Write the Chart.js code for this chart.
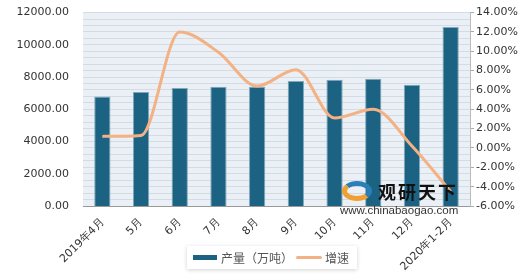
<!DOCTYPE html>
<html lang="zh">
<head>
  <meta charset="UTF-8" />
  <title>产量与增速</title>
  <script src="https://cdn.jsdelivr.net/npm/chart.js"></script>
  <style>
    * { margin: 0; padding: 0; box-sizing: border-box; }
    body { width: 520px; height: 276px; background: #fff; font-family: 'Noto Sans CJK SC', 'DejaVu Sans', sans-serif; overflow: hidden; }
    .wrap { position: relative; width: 520px; height: 276px; }
    .legend {
      position: absolute; left: 187px; top: 246px; width: 170px; height: 23px;
      background: #fff; box-shadow: 0 1px 4px rgba(0,0,0,0.18);
      display: flex; align-items: center; font-size: 12px; color: #555; padding-left: 6px;
    }
    .legend .sw-bar { width: 24px; height: 5px; background: #1c6282; margin-right: 4px; }
    .legend .sw-line { width: 26px; height: 3px; background: #f4b183; border-radius: 2px; margin: 0 3px 0 3px; }
    .mark { position: absolute; left: 340px; top: 178px; color: #222; }
    .mark .logo { position: absolute; left: 2px; top: 3px; width: 30px; height: 20px; border-radius: 50%;
      border: 5px solid #f0a030; border-right-color: #2a7fb8; border-top-color: #2a7fb8; }
    .mark .name { position: absolute; left: 38px; top: 0; font-size: 18px; font-weight: bold; letter-spacing: 2px; white-space: nowrap; color: #111; }
    .mark .url { position: absolute; left: 0; top: 26px; font-family: 'Liberation Sans', sans-serif; font-size: 11.5px; white-space: nowrap; color: #333; }
  </style>
</head>
<body>
  <div class="wrap">
    <canvas id="chart" width="520" height="276"></canvas>
    <div class="mark">
      <div class="logo"></div>
      <div class="name">观研天下</div>
      <div class="url">www.chinabaogao.com</div>
    </div>
    <div class="legend">
      <span class="sw-bar"></span><span>产量（万吨）</span>
      <span class="sw-line"></span><span>增速</span>
    </div>
  </div>

  <script>
    const months = ['2019年4月', '5月', '6月', '7月', '8月', '9月', '10月', '11月', '12月', '2020年1-2月'];
    const output = [6800, 7070, 7320, 7400, 7400, 7750, 7830, 7900, 7520, 11110];
    const growth = [1.2, 1.3, 12.0, 9.9, 6.4, 8.1, 3.1, 4.0, 0.2, -4.5];
    const leftTicks = [0, 2000, 4000, 6000, 8000, 10000, 12000];
    const rightTicks = [-6, -4, -2, 0, 2, 4, 6, 8, 10, 12, 14];

    // light striped plot background
    const plotBg = {
      id: 'plotBg',
      beforeDraw(chart) {
        const { ctx, chartArea: a } = chart;
        ctx.save();
        ctx.fillStyle = '#eaf0f5';
        ctx.fillRect(a.left, a.top, a.right - a.left, a.bottom - a.top);
        ctx.restore();
      }
    };

    const tickFont = { family: "'DejaVu Sans', sans-serif", size: 11 };

    new Chart(document.getElementById('chart'), {
      type: 'bar',
      data: {
        labels: months,
        datasets: [
          {
            label: '增速',
            type: 'line',
            data: growth,
            yAxisID: 'yRate',
            borderColor: '#f4b183',
            borderWidth: 3,
            pointRadius: 0,
            cubicInterpolationMode: 'monotone',
            order: 0
          },
          {
            label: '产量（万吨）',
            data: output,
            yAxisID: 'yOut',
            backgroundColor: '#1c6282',
            borderColor: '#7fa7bd',
            borderWidth: 1,
            barPercentage: 0.42,
            categoryPercentage: 1,
            order: 1
          }
        ]
      },
      options: {
        responsive: false,
        animation: false,
        layout: { padding: { top: 5, right: 0, left: 0, bottom: 0 } },
        plugins: { legend: { display: false }, tooltip: { enabled: false } },
        scales: {
          x: {
            grid: { display: false },
            border: { color: '#999' },
            ticks: { color: '#333', font: tickFont, minRotation: 45, maxRotation: 45, padding: 2 },
            afterFit(s) { s.height = 70; }
          },
          yOut: {
            position: 'left',
            min: 0, max: 12000,
            afterBuildTicks(s) { s.ticks = leftTicks.map(v => ({ value: v })); },
            grid: { display: false },
            border: { display: false },
            ticks: { color: '#333', font: tickFont, padding: 6, callback: v => v.toFixed(2) },
            afterFit(s) { s.width = 83; }
          },
          yRate: {
            position: 'right',
            min: -6, max: 14,
            afterBuildTicks(s) { s.ticks = rightTicks.map(v => ({ value: v })); },
            grid: { display: true, drawOnChartArea: false, drawTicks: true, tickLength: 4, color: '#aaa' },
            border: { color: '#bbb' },
            ticks: { color: '#333', font: tickFont, padding: 2, callback: v => v.toFixed(2) + '%' },
            afterFit(s) { s.width = 50; }
          },
          yGrid: {
            display: true,
            position: 'left',
            min: 0, max: 30,
            ticks: { display: false, stepSize: 1 },
            grid: { color: '#d3dbe3', drawTicks: false },
            border: { display: false },
            afterFit(s) { s.width = 0; }
          }
        }
      },
      plugins: [plotBg]
    });
  </script>
</body>
</html>
